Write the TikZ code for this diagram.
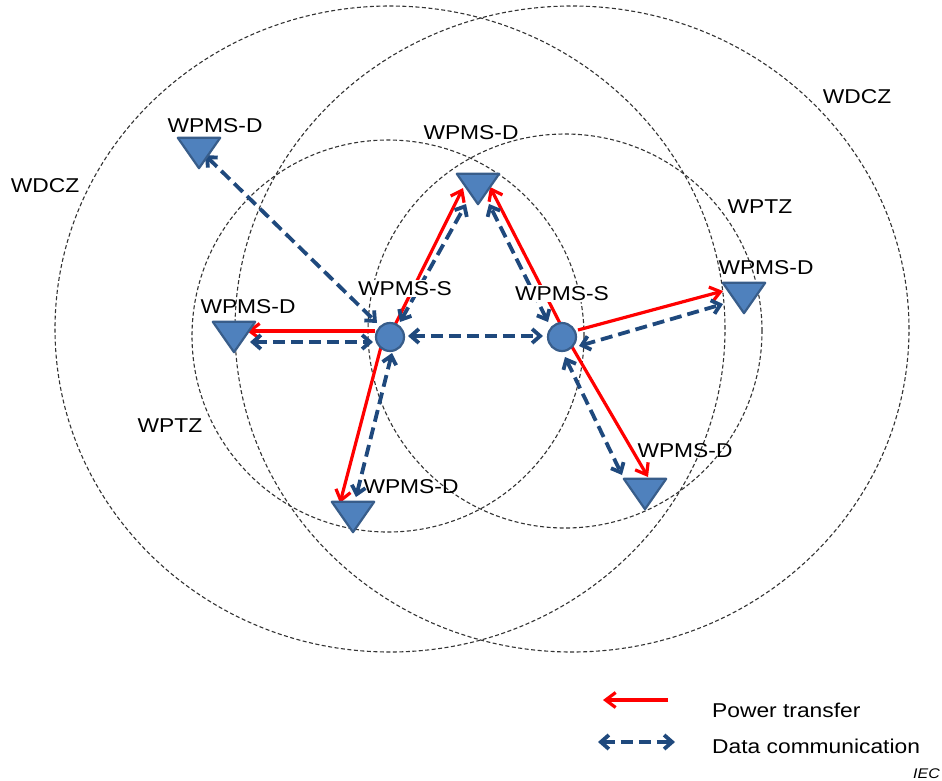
\documentclass[tikz,border=0pt]{standalone}
\usepackage{fontspec}
\setmainfont{Liberation Sans}
\newfontfamily\lblfont[FakeStretch=1.14]{Liberation Sans}
\usetikzlibrary{arrows.meta,calc}

\definecolor{nodefill}{HTML}{4F81BD}
\definecolor{nodeedge}{HTML}{385D8A}
\definecolor{datablue}{RGB}{31,73,125}
\definecolor{powerred}{HTML}{FF0000}
\definecolor{zonegray}{HTML}{333333}

\pgfdeclarelayer{bg}
\pgfsetlayers{bg,main}

\begin{document}
\begin{tikzpicture}[x=1pt,y=-1pt,
  zone/.style={draw=zonegray, line width=1.1pt, dash pattern=on 4pt off 2.5pt},
  station/.style={circle, fill=nodefill, draw=nodeedge, line width=2.2pt,
    minimum size=28pt, inner sep=0pt},
  devbox/.style={rectangle, minimum width=42pt, minimum height=30pt, inner sep=0pt},
  devtri/.style={fill=nodefill, draw=nodeedge, line width=2.2pt, line join=round},
  lbl/.style={font=\lblfont\fontsize{20}{24}\selectfont, inner sep=0pt, anchor=base},
  power/.style={draw=powerred, line width=3.2pt,
    -{Straight Barb[length=10pt,width=15pt]}},
  data/.style={draw=datablue, line width=3.8pt, dash pattern=on 12pt off 6pt,
    {Straight Barb[length=8pt,width=14pt]}-{Straight Barb[length=8pt,width=14pt]}},
]
\useasboundingbox (0,0) rectangle (942,780);

% stations (WPMS-S) and devices (WPMS-D)
\node[station] (SL) at (390,337) {};
\node[station] (SR) at (562,337) {};
\node[devbox] (D1) at (199,153) {};
\node[devbox] (D2) at (234,337) {};
\node[devbox] (D3) at (478,189) {};
\node[devbox] (D4) at (744,298) {};
\node[devbox] (D5) at (353,517) {};
\node[devbox] (D6) at (645,494) {};
\foreach \d in {D1,D2,D3,D4,D5,D6}
  \draw[devtri] (\d.north west) -- (\d.north east) -- (\d.south) -- cycle;

% zone and device labels
\node[lbl] (zL) at (45,192) {WDCZ};
\node[lbl] (zR) at (857,103) {WDCZ};
\node[lbl] (tR) at (760,213) {WPTZ};
\node[lbl] (tL) at (170,432) {WPTZ};
\node[lbl] (lD1) at (215,132) {WPMS-D};
\node[lbl] (lD3) at (471,139) {WPMS-D};
\node[lbl] (lD2) at (248,313) {WPMS-D};
\node[lbl] (lD4) at (766,274) {WPMS-D};
\node[lbl] (lD5) at (411,493) {WPMS-D};
\node[lbl] (lD6) at (685,457) {WPMS-D};
\node[lbl, fill=white, inner sep=1.5pt] (lSL) at (405,295) {WPMS-S};
\node[lbl, fill=white, inner sep=1.5pt] (lSR) at (562,300) {WPMS-S};

% legend
\coordinate (lgPa) at (668,700);
\coordinate (lgPb) at (603,700);
\coordinate (lgDa) at (598,742);
\coordinate (lgDb) at (675,742);
\node[lbl, anchor=base west] (lgP) at (712,717) {Power transfer};
\node[lbl, anchor=base west] (lgD) at (712,753) {Data communication};
\node[font=\lblfont\itshape\fontsize{14}{16}\selectfont, inner sep=0pt,
  anchor=base east] (iec) at (940,778) {IEC};

\begin{pgfonlayer}{bg}
  \fill[white] (0,0) rectangle (942,780);
  % data collection and power transfer zones
  \draw[zone] (390,329) ellipse [x radius=335pt, y radius=323pt];
  \draw[zone] (572,329) ellipse [x radius=337pt, y radius=323pt];
  \draw[zone] (388,336) circle [radius=196pt];
  \draw[zone] (565,331) circle [radius=197pt];

  % left station
  \draw[power] ($(SL)+(-15,-6)$) -- ($(D2)+(13,-6)$);
  \draw[data]  ($(D2)+(16,5)$) -- ($(SL)+(-17,5)$);
  \draw[data]  ($(D1)+(6,2)$) -- ($(SL)+(-13,-14)$);
  \draw[power] ($(SL)+(-5,8)$) -- ($(D3)+(-15,-1)$);
  \draw[data]  ($(SL)+(10,-15)$) -- ($(D3)+(-12,15)$);
  \draw[power] ($(SL)+(-8,6)$) -- ($(D5)+(-13,-14)$);
  \draw[data]  ($(SL)+(2,16)$) -- ($(D5)+(3,-20)$);
  \draw[data]  ($(SL)+(18,-1)$) -- ($(SR)+(-19,-1)$);

  % right station
  \draw[power] ($(SR)+(4,-2)$) -- ($(D3)+(12,-2)$);
  \draw[data]  ($(SR)+(-14,-15)$) -- ($(D3)+(11,15)$);
  \draw[power] ($(SR)+(16,-7)$) -- ($(D4)+(-21,-7)$);
  \draw[data]  ($(SR)+(17,9)$) -- ($(D4)+(-21,6)$);
  \draw[power] ($(SR)+(6,3)$) -- ($(D6)+(3,-17)$);
  \draw[data]  ($(SR)+(3,20)$) -- ($(D6)+(-23,-19)$);

  % legend arrows
  \draw[power] (lgPa) -- (lgPb);
  \draw[data]  (lgDa) -- (lgDb);
\end{pgfonlayer}
\end{tikzpicture}
\end{document}
